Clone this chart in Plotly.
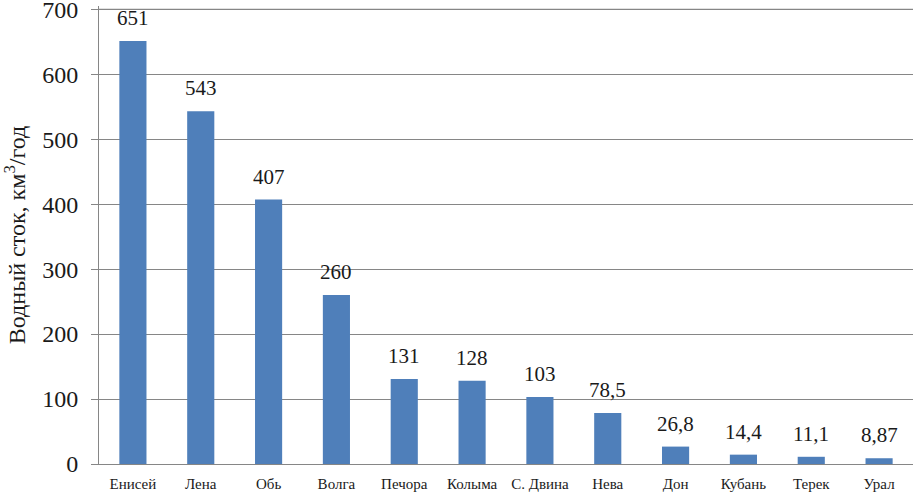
import plotly.graph_objects as go

rivers = ["Енисей", "Лена", "Обь", "Волга", "Печора", "Колыма", "С. Двина",
          "Нева", "Дон", "Кубань", "Терек", "Урал"]
flow = [651, 543, 407, 260, 131, 128, 103, 78.5, 26.8, 14.4, 11.1, 8.87]
labels = ["651", "543", "407", "260", "131", "128", "103", "78,5", "26,8",
          "14,4", "11,1", "8,87"]
y_ticks = [0, 100, 200, 300, 400, 500, 600, 700]

font_family = "Liberation Serif"
grid_color = "#868686"

fig = go.Figure(go.Bar(
    x=rivers, y=flow,
    marker=dict(color="#4f7fba", line=dict(width=0)),
    cliponaxis=False,
    hoverinfo="skip",
))

for r, v, t in zip(rivers, flow, labels):
    fig.add_annotation(x=r, y=v, text=t, showarrow=False, yanchor="bottom",
                       yshift=9, font=dict(family=font_family, size=21, color="#1a1a1a"))

# top gridline (plotly drops the grid line at the very edge of the range)
fig.add_shape(type="line", xref="paper", x0=0, x1=1, yref="y",
              y0=y_ticks[-1], y1=y_ticks[-1], layer="above",
              line=dict(color=grid_color, width=1))

fig.update_layout(
    width=913, height=494,
    margin=dict(l=99, r=0, t=6, b=29.5, autoexpand=False),
    paper_bgcolor="white", plot_bgcolor="white",
    bargap=0.6,
    showlegend=False,
    font=dict(family=font_family, color="#1a1a1a"),
    xaxis=dict(
        showline=True, linecolor=grid_color, linewidth=1,
        ticks="", tickfont=dict(size=15, family=font_family),
        ticklabelstandoff=6,
        showgrid=False, automargin=False,
    ),
    yaxis=dict(
        range=[0, 705], tickvals=y_ticks,
        showline=True, linecolor=grid_color, linewidth=1,
        ticks="outside", ticklen=7, tickcolor=grid_color,
        ticklabelstandoff=8, ticklabeloverflow="allow",
        showgrid=True, gridcolor=grid_color, gridwidth=1,
        tickfont=dict(size=24, family=font_family),
        title=dict(text="Водный сток, км<sup>3</sup>/год",
                   font=dict(size=24, family=font_family), standoff=16),
        zeroline=False, automargin=False,
    ),
)

fig.write_html("out.html", config={"displayModeBar": False},
               post_script="document.body.style.margin='0';")
